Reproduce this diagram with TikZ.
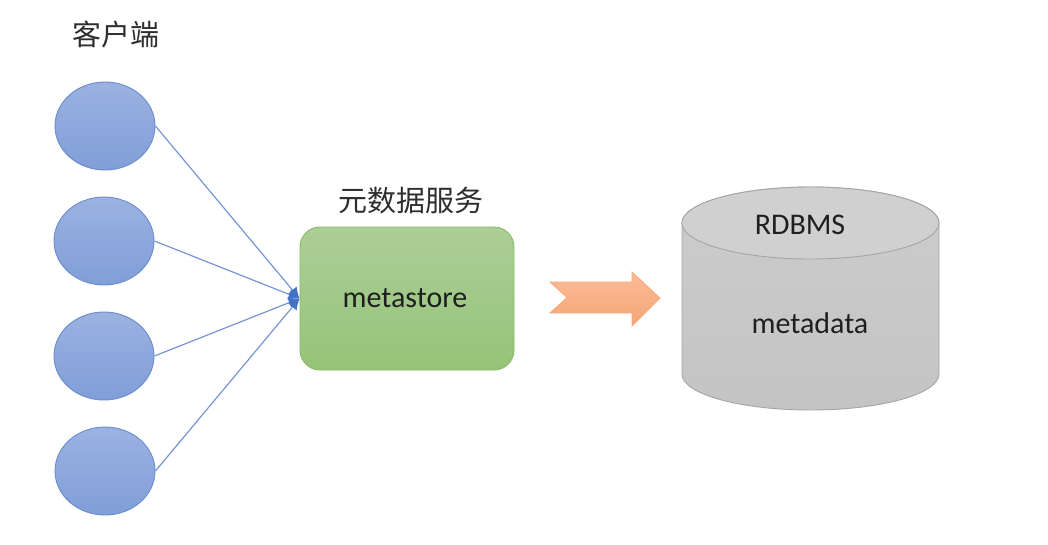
\documentclass[tikz,border=0pt]{standalone}
\usepackage{fontspec}
\setmainfont{Carlito}
\newfontfamily\cjk{Noto Sans CJK SC}
\usetikzlibrary{shapes.geometric,arrows.meta}
\definecolor{clientline}{RGB}{120,150,215}
\definecolor{clientdraw}{RGB}{105,140,205}
\definecolor{tipblue}{RGB}{68,114,196}
\definecolor{greendraw}{RGB}{135,185,105}
\definecolor{orangedraw}{RGB}{245,170,125}
\definecolor{graydraw}{RGB}{165,165,165}
\tikzset{
  client/.style={ellipse,draw=clientdraw,line width=0.9pt,top color={rgb,255:red,155;green,178;blue,225},bottom color={rgb,255:red,128;green,158;blue,216},minimum width=100pt,minimum height=88pt,inner sep=0pt},
  link/.style={draw=clientline,line width=1.2pt,-{Latex[length=11pt,width=11pt,color=tipblue,fill=tipblue]}},
  metabox/.style={draw=greendraw,line width=0.9pt,rounded corners=20pt,top color={rgb,255:red,172;green,206;blue,152},bottom color={rgb,255:red,150;green,195;blue,120},minimum width=214pt,minimum height=143pt,inner sep=0pt},
  bigtext/.style={font=\fontsize{30}{36}\selectfont,text=black!88},
  cjktext/.style={font=\cjk\fontsize{29}{34}\selectfont,text=black!82}
}
\begin{document}
\begin{tikzpicture}[x=1pt,y=1pt]
\useasboundingbox[fill=white] (0,0) rectangle (1048,-544);
% clients
\node[cjktext] (lbl) at (116,-34) {客户端};
\node[client] (c1) at (105,-126) {};
\node[client] (c2) at (104,-241) {};
\node[client] (c3) at (104,-356) {};
\node[client] (c4) at (105,-471) {};
% metastore
\node[metabox] (m) at (407,-298.5) {};
\node[bigtext] (mt) at (405,-298) {metastore};
\node[cjktext] (ml) at (411,-201) {元数据服务};
% links
\draw[link] (c1.east) -- (m.west);
\draw[link] (c2.east) -- (m.west);
\draw[link] (c3.east) -- (m.west);
\draw[link] (c4.east) -- (m.west);
% block arrow
\draw[draw=orangedraw,line width=0.8pt,top color={rgb,255:red,250;green,188;blue,150},bottom color={rgb,255:red,246;green,165;blue,118}]
  (550,-282) -- (632,-282) -- (632,-272) -- (660,-298) -- (632,-326) -- (632,-313) -- (550,-313) -- (567,-297.5) -- cycle;
% cylinder
\draw[draw=graydraw,line width=0.9pt,top color={rgb,255:red,204;green,204;blue,204},bottom color={rgb,255:red,196;green,196;blue,196}]
  (682,-223) -- (682,-374) arc[start angle=180,end angle=360,x radius=128.5,y radius=36] -- (939,-223) arc[start angle=0,end angle=180,x radius=128.5,y radius=36] -- cycle;
\draw[draw=graydraw,line width=0.9pt,fill={rgb,255:red,208;green,208;blue,208}] (810.5,-223) ellipse[x radius=128.5,y radius=36];
\node[bigtext] (rd) at (800,-225) {RDBMS};
\node[bigtext] (md) at (810,-323) {metadata};
\end{tikzpicture}
\end{document}
